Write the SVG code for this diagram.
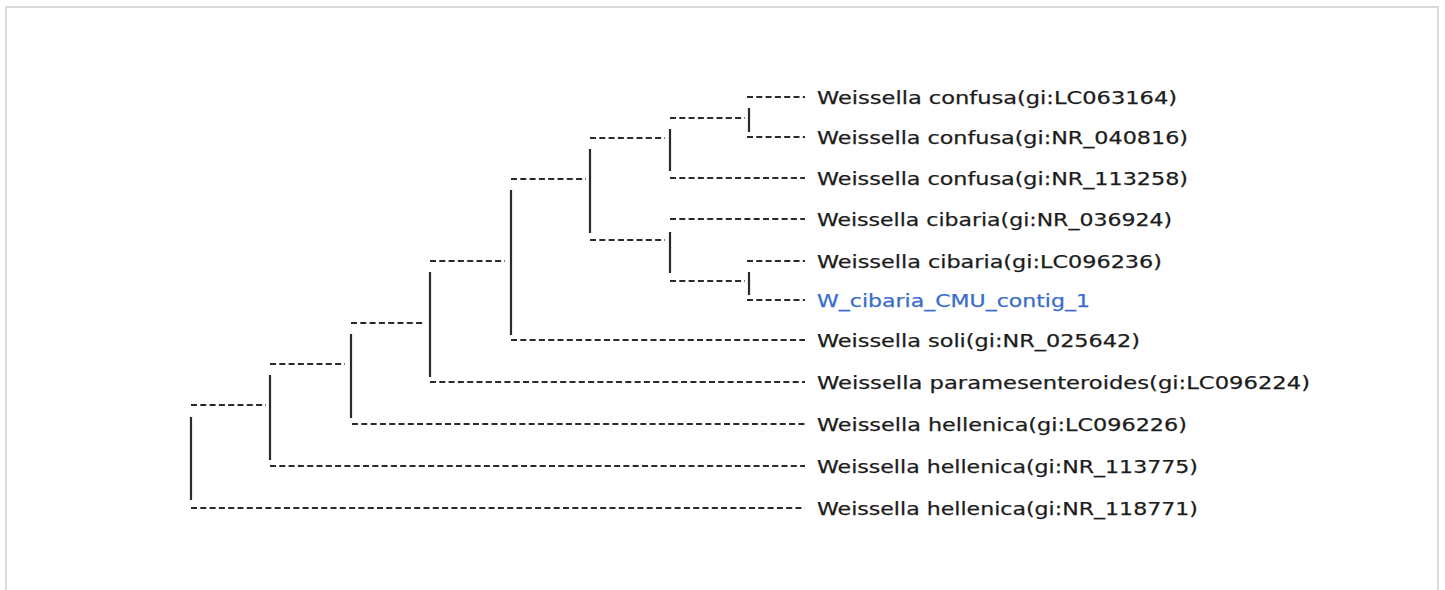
<svg xmlns="http://www.w3.org/2000/svg" width="1445" height="590" viewBox="0 0 1445 590">
<style>
.h{stroke:#2a2a2a;stroke-width:2.2;stroke-dasharray:6 3.3;fill:none}
.v{stroke:#2a2a2a;stroke-width:2.2;fill:none}
.t{font-family:"DejaVu Sans",Verdana,sans-serif;font-size:18.5px;fill:#1c1c1c;stroke:#1c1c1c;stroke-width:0.25}
.q{fill:#3a6ccc;stroke:#3a6ccc}
</style>
<rect x="0" y="0" width="1445" height="590" fill="#ffffff"/>
<rect x="6" y="7" width="1432" height="600" fill="none" stroke="#d9d9d9" stroke-width="2"/>
<g id="connectors">
<line class="h" x1="747" y1="97" x2="805" y2="97"/>
<line class="h" x1="747" y1="137" x2="805" y2="137"/>
<line class="h" x1="670" y1="178" x2="805" y2="178"/>
<line class="h" x1="670" y1="219" x2="805" y2="219"/>
<line class="h" x1="747" y1="261" x2="805" y2="261"/>
<line class="h" x1="747" y1="300" x2="805" y2="300"/>
<line class="h" x1="511" y1="340" x2="805" y2="340"/>
<line class="h" x1="430" y1="382" x2="805" y2="382"/>
<line class="h" x1="352" y1="424" x2="805" y2="424"/>
<line class="h" x1="270" y1="466" x2="805" y2="466"/>
<line class="h" x1="191" y1="508" x2="805" y2="508"/>
<line class="h" x1="670" y1="118" x2="745" y2="118"/>
<line class="h" x1="670" y1="281" x2="745" y2="281"/>
<line class="h" x1="590" y1="138" x2="665" y2="138"/>
<line class="h" x1="590" y1="240" x2="665" y2="240"/>
<line class="h" x1="511" y1="179" x2="586" y2="179"/>
<line class="h" x1="430" y1="261" x2="505" y2="261"/>
<line class="h" x1="351" y1="323" x2="425" y2="323"/>
<line class="h" x1="270" y1="364" x2="345" y2="364"/>
<line class="h" x1="191" y1="405" x2="266" y2="405"/>
<line class="v" x1="749" y1="108" x2="749" y2="132"/>
<line class="v" x1="749" y1="272" x2="749" y2="295"/>
<line class="v" x1="670" y1="129" x2="670" y2="171"/>
<line class="v" x1="670" y1="232" x2="670" y2="273"/>
<line class="v" x1="590" y1="149" x2="590" y2="233"/>
<line class="v" x1="511" y1="190" x2="511" y2="335"/>
<line class="v" x1="430" y1="272" x2="430" y2="377"/>
<line class="v" x1="351" y1="334" x2="351" y2="418"/>
<line class="v" x1="270" y1="375" x2="270" y2="460"/>
<line class="v" x1="191" y1="417" x2="191" y2="500"/>
</g>
<g id="leaf1"><text class="t" x="817" y="103.5" textLength="360" lengthAdjust="spacingAndGlyphs">Weissella confusa(gi:LC063164)</text></g>
<g id="leaf2"><text class="t" x="817" y="143.5" textLength="371" lengthAdjust="spacingAndGlyphs">Weissella confusa(gi:NR_040816)</text></g>
<g id="leaf3"><text class="t" x="817" y="184.5" textLength="371" lengthAdjust="spacingAndGlyphs">Weissella confusa(gi:NR_113258)</text></g>
<g id="leaf4"><text class="t" x="817" y="225.5" textLength="355" lengthAdjust="spacingAndGlyphs">Weissella cibaria(gi:NR_036924)</text></g>
<g id="leaf5"><text class="t" x="817" y="267.5" textLength="345" lengthAdjust="spacingAndGlyphs">Weissella cibaria(gi:LC096236)</text></g>
<g id="leaf6"><text class="t q" x="817" y="306.5" textLength="273" lengthAdjust="spacingAndGlyphs">W_cibaria_CMU_contig_1</text></g>
<g id="leaf7"><text class="t" x="817" y="346.5" textLength="323" lengthAdjust="spacingAndGlyphs">Weissella soli(gi:NR_025642)</text></g>
<g id="leaf8"><text class="t" x="817" y="388.5" textLength="493" lengthAdjust="spacingAndGlyphs">Weissella paramesenteroides(gi:LC096224)</text></g>
<g id="leaf9"><text class="t" x="817" y="430.5" textLength="370" lengthAdjust="spacingAndGlyphs">Weissella hellenica(gi:LC096226)</text></g>
<g id="leaf10"><text class="t" x="817" y="472.5" textLength="381" lengthAdjust="spacingAndGlyphs">Weissella hellenica(gi:NR_113775)</text></g>
<g id="leaf11"><text class="t" x="817" y="514.5" textLength="381" lengthAdjust="spacingAndGlyphs">Weissella hellenica(gi:NR_118771)</text></g>
</svg>
